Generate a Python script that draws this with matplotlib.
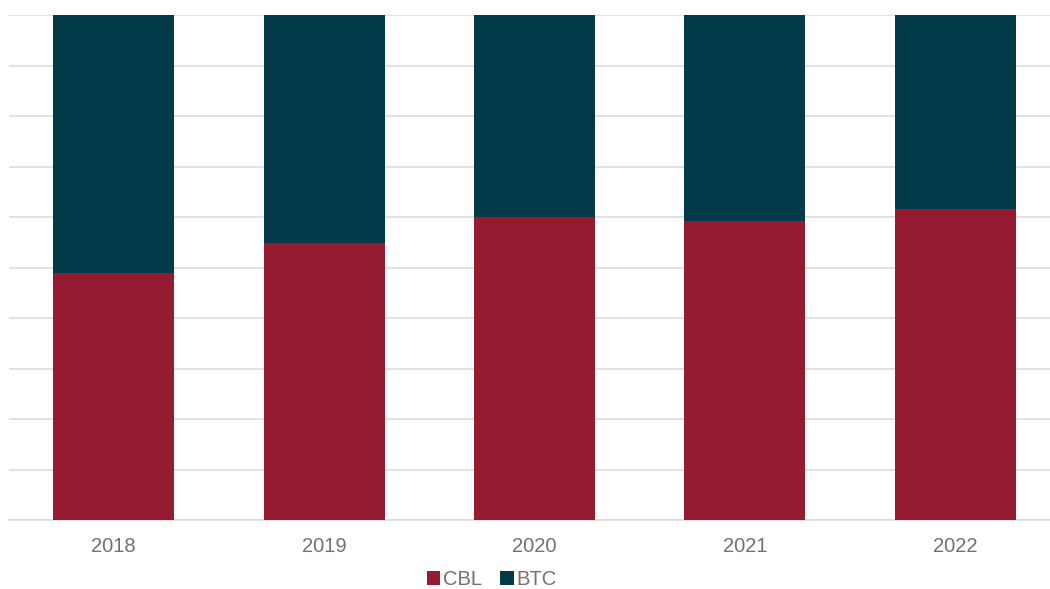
import matplotlib.pyplot as plt
import numpy as np

plt.rcParams.update({
    'font.family': ['Liberation Sans', 'DejaVu Sans'],
    'font.size': 14,
})

years = ['2018', '2019', '2020', '2021', '2022']
cbl = np.array([48.9, 54.9, 60.0, 59.2, 61.5])
btc = 100 - cbl

COL_CBL = '#951b30'
COL_BTC = '#023a4a'
GRID = '#dedbd8'
TXT = '#77706a'

fig = plt.figure(figsize=(10.5, 5.89), dpi=100)
# axes run a little past the right edge of the figure
ax = fig.add_axes([8.5 / 1050, 69 / 589, 1052 / 1050, 505 / 589])

x = np.arange(len(years))
ax.bar(x, cbl, width=0.575, color=COL_CBL, label='CBL', zorder=3)
ax.bar(x, btc, width=0.575, bottom=cbl, color=COL_BTC, label='BTC', zorder=3)

ax.set_xlim(-0.5, len(years) - 0.5)
ax.set_ylim(0, 100)
ax.set_yticks(np.arange(0, 101, 10))
ax.set_yticklabels([])
ax.yaxis.grid(True, color=GRID, linewidth=1.2, zorder=0)
ax.tick_params(axis='y', length=0)
ax.tick_params(axis='x', length=0, colors=TXT, labelsize=14.5, pad=12)
ax.set_xticks(x)
ax.set_xticklabels(years)
for s in ['top', 'left', 'right']:
    ax.spines[s].set_visible(False)
ax.spines['bottom'].set_color(GRID)
ax.spines['bottom'].set_linewidth(1.2)

leg = fig.legend(loc='center', bbox_to_anchor=(492 / 1050, 1 - 579.5 / 589),
                 ncol=2, frameon=False, handlelength=0.65, handleheight=0.65,
                 handletextpad=0.15, columnspacing=0.9, fontsize=14.5,
                 borderpad=0.1)
for t in leg.get_texts():
    t.set_color(TXT)

plt.savefig('out.png', dpi=100)
plt.close()
